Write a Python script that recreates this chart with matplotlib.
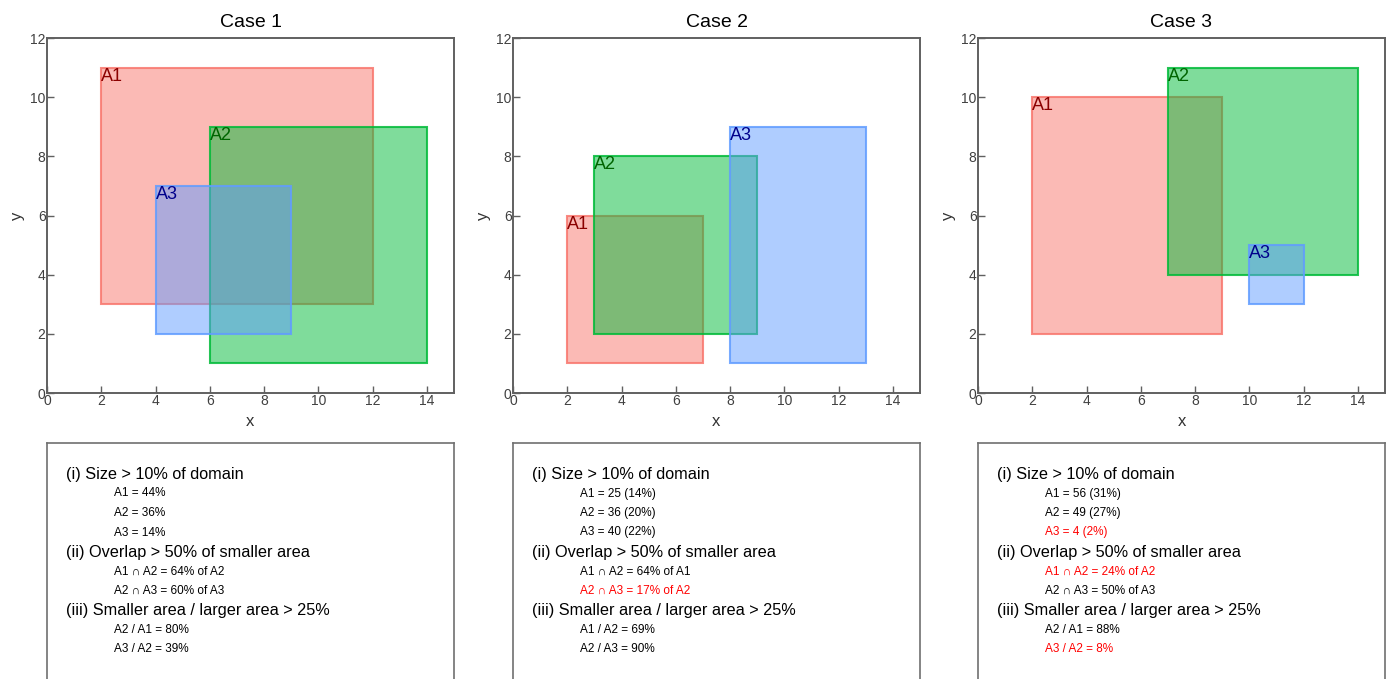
import matplotlib
matplotlib.use("Agg")
import matplotlib.pyplot as plt
from matplotlib.patches import Rectangle
from matplotlib.colors import to_rgba

plt.rcParams["font.family"] = ["Liberation Sans", "DejaVu Sans"]

# rectangles per case: (x0, y0, x1, y1) for A1, A2, A3
case_titles = ["Case 1", "Case 2", "Case 3"]
case1_boxes = [(2, 3, 12, 11), (6, 1, 14, 9), (4, 2, 9, 7)]
case2_boxes = [(2, 1, 7, 6), (3, 2, 9, 8), (8, 1, 13, 9)]
case3_boxes = [(2, 2, 9, 10), (7, 4, 14, 11), (10, 3, 12, 5)]
all_boxes = [case1_boxes, case2_boxes, case3_boxes]
box_names = ["A1", "A2", "A3"]

fill_colors = ["#F8766D", "#00BA38", "#619CFF"]
label_colors = ["#8B0000", "#006400", "#00008B"]

headings = [
    "(i) Size > 10% of domain",
    "(ii) Overlap > 50% of smaller area",
    "(iii) Smaller area / larger area > 25%",
]

# (text, is_failing) per heading, per case
case1_notes = [
    [("A1 = 44%", False), ("A2 = 36%", False), ("A3 = 14%", False)],
    [("A1 ∩ A2 = 64% of A2", False), ("A2 ∩ A3 = 60% of A3", False)],
    [("A2 / A1 = 80%", False), ("A3 / A2 = 39%", False)],
]
case2_notes = [
    [("A1 = 25 (14%)", False), ("A2 = 36 (20%)", False), ("A3 = 40 (22%)", False)],
    [("A1 ∩ A2 = 64% of A1", False), ("A2 ∩ A3 = 17% of A2", True)],
    [("A1 / A2 = 69%", False), ("A2 / A3 = 90%", False)],
]
case3_notes = [
    [("A1 = 56 (31%)", False), ("A2 = 49 (27%)", False), ("A3 = 4 (2%)", True)],
    [("A1 ∩ A2 = 24% of A2", True), ("A2 ∩ A3 = 50% of A3", False)],
    [("A2 / A1 = 88%", False), ("A3 / A2 = 8%", True)],
]
all_notes = [case1_notes, case2_notes, case3_notes]

W, H = 1386, 679
fig = plt.figure(figsize=(W / 100, H / 100), dpi=100)

panel_left = [47, 513, 978]
panel_w = 407
spine_col = "#606060"

for i in range(3):
    left = panel_left[i]
    ax = fig.add_axes([left / W, 1 - 393 / H, panel_w / W, 355 / H])
    for j, (x0, y0, x1, y1) in enumerate(all_boxes[i]):
        ax.add_patch(Rectangle((x0, y0), x1 - x0, y1 - y0,
                               facecolor=to_rgba(fill_colors[j], 0.5),
                               edgecolor=to_rgba(fill_colors[j], 0.85),
                               linewidth=1.5))
        ax.text(x0, y1, box_names[j], color=label_colors[j], fontsize=13,
                ha="left", va="top")
    ax.set_xlim(0, 15)
    ax.set_ylim(0, 12)
    ax.set_xticks(range(0, 15, 2))
    ax.set_yticks(range(0, 13, 2))
    ax.tick_params(direction="in", length=5, width=1, color=spine_col,
                   labelcolor="#404040", labelsize=10, pad=1)
    for s in ax.spines.values():
        s.set_color(spine_col)
        s.set_linewidth(1.4)
    ax.set_xlabel("x", fontsize=12, color="#333333", labelpad=4)
    ax.set_ylabel("y", fontsize=12, color="#333333", labelpad=4)
    ax.set_title(case_titles[i], fontsize=14, pad=8)

    # text box below the plot, runs off the bottom of the figure
    tb = fig.add_axes([left / W, -0.1, panel_w / W, 0.1 + 1 - 443 / H])
    tb.set_xticks([])
    tb.set_yticks([])
    for s in tb.spines.values():
        s.set_color("#707070")
        s.set_linewidth(1.2)

    y = 474
    for h, heading in enumerate(headings):
        fig.text((left + 19) / W, 1 - y / H, heading, fontsize=11.7,
                 ha="left", va="center")
        y += 19.5
        for note, bad in all_notes[i][h]:
            fig.text((left + 67) / W, 1 - y / H, note, fontsize=8.5,
                     color="#FF0000" if bad else "black",
                     ha="left", va="center")
            y += 19.5

fig.savefig("out.png", dpi=100)
